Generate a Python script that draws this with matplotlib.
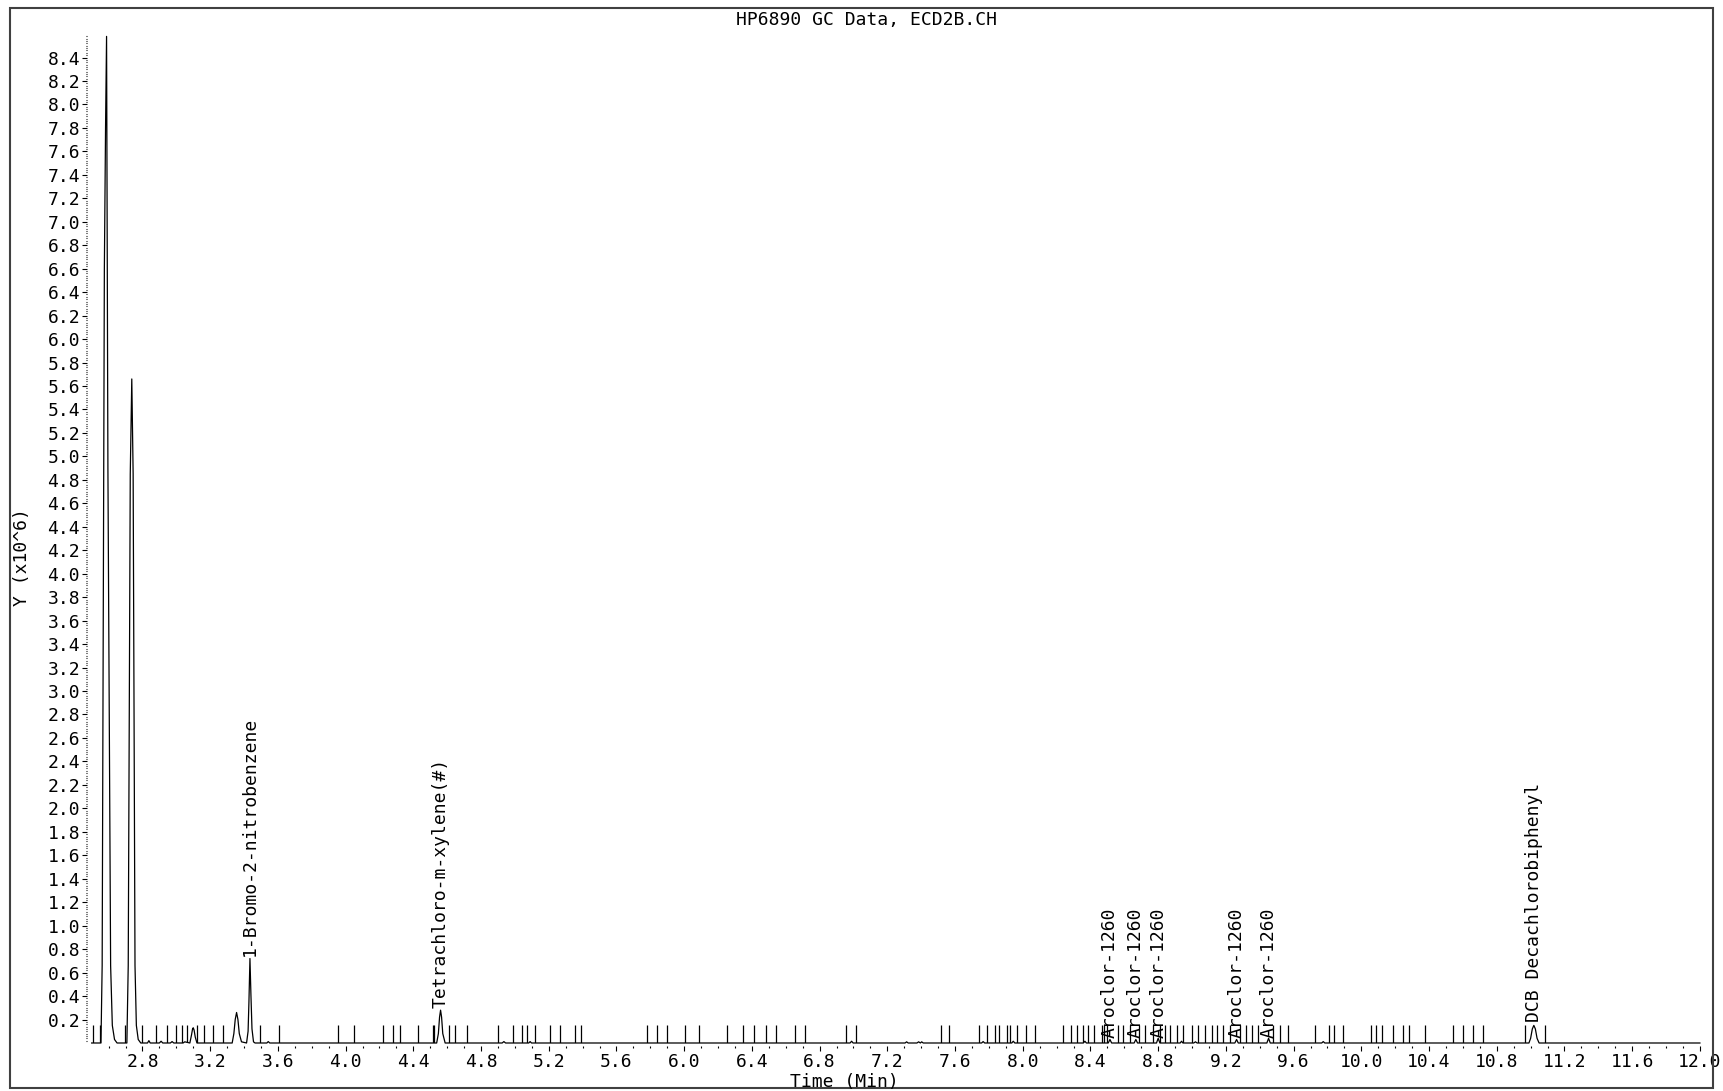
import matplotlib
matplotlib.use("Agg")
import matplotlib.pyplot as plt
from matplotlib.patches import Rectangle
from matplotlib.ticker import FixedLocator, FormatStrFormatter
import numpy as np

# detector trace (time in min, signal in 10^6 counts)
tiempo = [2.500, 2.555, 2.562, 2.575, 2.582, 2.588, 2.596, 2.612, 2.622, 2.635, 2.650,
          2.708, 2.716, 2.728, 2.737, 2.745, 2.756, 2.764, 2.775, 2.790,
          2.830, 2.838, 2.846, 2.900, 2.910, 2.920, 2.965, 2.975, 2.985, 3.040, 3.050,
          3.080, 3.090, 3.096, 3.100, 3.105, 3.112, 3.122,
          3.330, 3.340, 3.348, 3.356, 3.364, 3.372, 3.385,
          3.415, 3.424, 3.429, 3.435, 3.441, 3.447, 3.456, 3.465,
          3.535, 3.543, 3.552,
          4.538, 4.548, 4.555, 4.561, 4.567, 4.574, 4.588,
          4.925, 4.935, 4.945, 5.082, 5.090, 5.098,
          6.980, 6.989, 6.998, 7.305, 7.314, 7.323, 7.375, 7.385, 7.395, 7.403, 7.412,
          7.757, 7.766, 7.775, 7.935, 7.944, 7.953, 8.358, 8.367, 8.376,
          8.505, 8.515, 8.525, 8.658, 8.668, 8.678, 8.790, 8.800, 8.810,
          8.930, 8.938, 8.946, 9.010, 9.020, 9.030,
          9.253, 9.263, 9.273, 9.442, 9.452, 9.462, 9.766, 9.775, 9.784,
          10.990, 11.000, 11.010, 11.019, 11.028, 11.038, 11.050, 12.000]
senal = [0.0, 0.0, 0.66, 6.6, 7.8, 8.58, 4.9, 0.66, 0.15, 0.03, 0.0,
         0.0, 0.66, 4.85, 5.66, 4.85, 0.66, 0.15, 0.03, 0.0,
         0.0, 0.02, 0.0, 0.0, 0.015, 0.0, 0.0, 0.012, 0.0, 0.0, 0.01,
         0.0, 0.07, 0.12, 0.13, 0.11, 0.05, 0.0,
         0.0, 0.08, 0.2, 0.26, 0.2, 0.08, 0.01,
         0.0, 0.1, 0.35, 0.72, 0.4, 0.12, 0.01, 0.0,
         0.0, 0.012, 0.0,
         0.0, 0.08, 0.22, 0.28, 0.22, 0.08, 0.0,
         0.0, 0.012, 0.0, 0.0, 0.012, 0.0,
         0.0, 0.015, 0.0, 0.0, 0.01, 0.0, 0.0, 0.01, 0.0, 0.01, 0.0,
         0.0, 0.012, 0.0, 0.0, 0.015, 0.0, 0.0, 0.015, 0.0,
         0.0, 0.03, 0.0, 0.0, 0.03, 0.0, 0.0, 0.04, 0.0,
         0.0, 0.015, 0.0, 0.0, 0.01, 0.0,
         0.0, 0.03, 0.0, 0.0, 0.04, 0.0, 0.0, 0.012, 0.0,
         0.0, 0.04, 0.12, 0.15, 0.12, 0.04, 0.0, 0.0]

# integration event markers
eventos = [2.506, 2.549, 2.697, 2.795, 2.880, 2.943, 2.998, 3.032, 3.065, 3.124, 3.163,
           3.218, 3.277, 3.494, 3.608, 3.953, 4.049, 4.219, 4.282, 4.321, 4.429, 4.514,
           4.522, 4.612, 4.646, 4.715, 4.902, 4.987, 5.040, 5.073, 5.118, 5.207, 5.266,
           5.355, 5.388, 5.778, 5.837, 5.900, 6.004, 6.089, 6.254, 6.349, 6.412, 6.483,
           6.542, 6.654, 6.713, 6.955, 7.014, 7.520, 7.566, 7.741, 7.791, 7.836, 7.861,
           7.908, 7.924, 7.967, 8.019, 8.072, 8.239, 8.283, 8.322, 8.354, 8.387, 8.421,
           8.466, 8.480, 8.499, 8.564, 8.590, 8.633, 8.688, 8.722, 8.771, 8.811, 8.841,
           8.870, 8.909, 8.945, 8.998, 9.037, 9.076, 9.115, 9.149, 9.181, 9.224, 9.283,
           9.318, 9.352, 9.392, 9.480, 9.519, 9.568, 9.726, 9.810, 9.838, 9.893,
           10.056, 10.086, 10.120, 10.188, 10.244, 10.283, 10.376, 10.543, 10.598,
           10.661, 10.717, 10.966, 11.084]
alto_evento = 0.156

# peak identification
compuestos = ["1-Bromo-2-nitrobenzene", "Tetrachloro-m-xylene(#)",
              "Aroclor-1260", "Aroclor-1260", "Aroclor-1260", "Aroclor-1260", "Aroclor-1260",
              "DCB Decachlorobiphenyl"]
tiempos_ret = [3.435, 4.561, 8.515, 8.668, 8.800, 9.263, 9.452, 11.022]
base_etiqueta = [0.74, 0.30, 0.04, 0.04, 0.04, 0.04, 0.04, 0.18]

plt.rcParams['font.family'] = ['DejaVu Sans Mono']
fuente = 13

fig = plt.figure(figsize=(17.23, 10.91), dpi=100)
ax = fig.add_axes([0.0532, 0.0440, 0.9334, 0.9248])

ax.plot(tiempo, senal, color='black', lw=0.9, clip_on=False)
ax.vlines(eventos, 0, alto_evento, color='black', lw=0.9)

for nombre, t, y0 in zip(compuestos, tiempos_ret, base_etiqueta):
    ax.text(t, y0, nombre, rotation=90, ha='center', va='bottom',
            fontsize=fuente, color='black')

ax.set_xlim(2.5, 12.0)
ax.set_ylim(0, 8.6)

for lado in ['top', 'right', 'left', 'bottom']:
    ax.spines[lado].set_visible(False)
ax.spines['left'].set_position(('outward', 3))
ax.spines['bottom'].set_position(('outward', 2.2))

mayores_x = np.round(np.arange(2.8, 12.01, 0.4), 1)
menores_x = [v for v in np.round(np.arange(2.6, 12.0, 0.1), 1) if v not in mayores_x]
ax.xaxis.set_major_locator(FixedLocator(mayores_x))
ax.xaxis.set_minor_locator(FixedLocator(menores_x))
ax.xaxis.set_major_formatter(FormatStrFormatter('%.1f'))

mayores_y = np.round(np.arange(0.2, 8.41, 0.2), 1)
menores_y = [v for v in np.round(np.arange(0.02, 8.59, 0.02), 2) if v not in mayores_y]
ax.yaxis.set_major_locator(FixedLocator(mayores_y))
ax.yaxis.set_minor_locator(FixedLocator(menores_y))
ax.yaxis.set_major_formatter(FormatStrFormatter('%.1f'))

ax.tick_params(axis='x', which='major', direction='out', length=3.6, width=0.8,
               pad=1.5, labelsize=fuente)
ax.tick_params(axis='x', which='minor', direction='out', length=1.4, width=0.8)
ax.tick_params(axis='y', which='major', direction='out', length=3.8, width=0.8,
               pad=1.5, labelsize=fuente)
ax.tick_params(axis='y', which='minor', direction='out', length=0.8, width=0.8)

fig.text(0.503, 0.982, "HP6890 GC Data, ECD2B.CH", ha='center', va='center', fontsize=fuente)
fig.text(0.490, 0.0078, "Time (Min)", ha='center', va='center', fontsize=fuente)
fig.text(0.0128, 0.489, "Y (x10^6)", rotation=90, ha='center', va='center', fontsize=fuente)

fig.patches.append(Rectangle((0.0058, 0.0027), 0.9884, 0.990, transform=fig.transFigure,
                             fill=False, edgecolor='#404040', lw=1.5))

fig.savefig("out.png", dpi=100)
